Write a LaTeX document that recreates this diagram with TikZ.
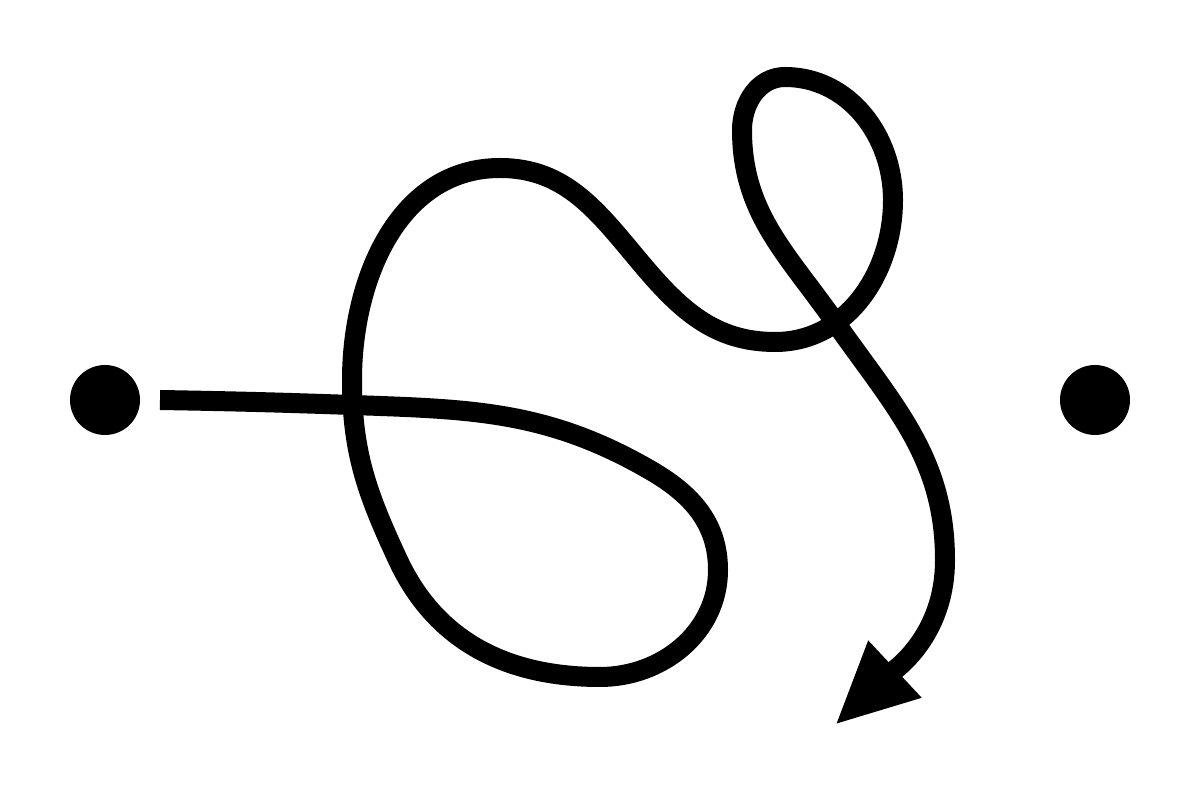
\documentclass[tikz,border=0pt]{standalone}
\usetikzlibrary{arrows.meta}
\tikzset{dot/.style={circle,fill=black,minimum size=70pt,inner sep=0pt},
curve/.style={line width=20pt,line cap=butt,line join=round}}
\begin{document}
\begin{tikzpicture}[x=1pt,y=1pt]
\useasboundingbox (0,0) rectangle (1200,800);
\node[dot] (L) at (105,400) {};
\node[dot] (R) at (1095,400) {};
\coordinate (s) at (160,400);
\coordinate (tip) at (835,75);
\draw[curve,-{Triangle[length=82pt,width=72pt]}]
  (s) to[out=-1,in=178] (352,395)
  to[out=-2,in=150] (650,330)
  to[out=-30,in=90] (718,230)
  to[out=-90,in=0] (600,123)
  to[out=180,in=-65] (398,240)
  to[out=115,in=-90] (352,420)
  to[out=90,in=180] (500,632)
  to[out=0,in=130] (640,538)
  to[out=-50,in=180] (775,458)
  to[out=0,in=-90] (893,600)
  to[out=90,in=0] (785,723)
  to[out=180,in=90] (742,670)
  to[out=-90,in=125] (835,478)
  to[out=-55,in=90] (945,240)
  to[out=-90,in=43] (tip);
\end{tikzpicture}
\end{document}
